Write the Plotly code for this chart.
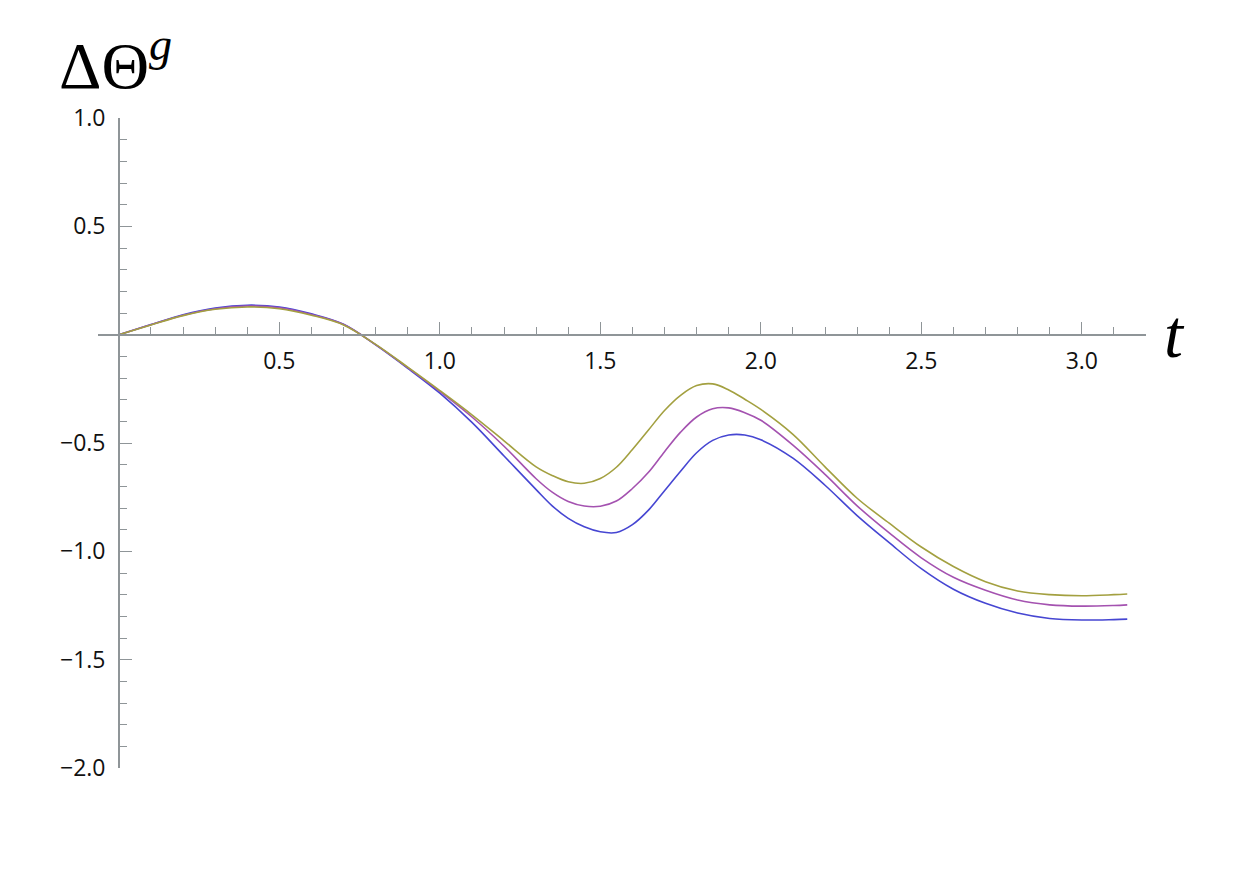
import numpy as np
import plotly.graph_objects as go

# time grid (last point is pi)
t = [0.0, 0.1, 0.2, 0.3, 0.4, 0.5, 0.6, 0.7, 0.8, 0.9, 1.0, 1.1, 1.2,
     1.3, 1.35, 1.4, 1.45, 1.5, 1.55, 1.6, 1.65, 1.7, 1.75, 1.8, 1.85, 1.9, 1.95, 2.0,
     2.1, 2.2, 2.3, 2.4, 2.5, 2.6, 2.7, 2.8, 2.9, 3.0, 3.1, 3.14159]

blue = [0.0, 0.047, 0.092, 0.123, 0.136, 0.128, 0.096, 0.048, -0.047, -0.155, -0.27, -0.405, -0.56,
        -0.715, -0.79, -0.848, -0.887, -0.91, -0.913, -0.877, -0.81, -0.72, -0.63, -0.545, -0.488, -0.463, -0.463, -0.485,
        -0.57, -0.695, -0.835, -0.96, -1.08, -1.175, -1.24, -1.285, -1.31, -1.317, -1.315, -1.313]

purple = [0.0, 0.046, 0.09, 0.12, 0.132, 0.124, 0.093, 0.047, -0.046, -0.152, -0.262, -0.38, -0.515,
          -0.665, -0.727, -0.77, -0.791, -0.792, -0.768, -0.71, -0.635, -0.54, -0.45, -0.38, -0.342, -0.338, -0.36, -0.395,
          -0.51, -0.645, -0.79, -0.915, -1.03, -1.12, -1.18, -1.225, -1.247, -1.253, -1.25, -1.247]

gold = [0.0, 0.045, 0.088, 0.117, 0.128, 0.12, 0.09, 0.045, -0.045, -0.15, -0.258, -0.37, -0.49,
        -0.61, -0.65, -0.679, -0.686, -0.664, -0.612, -0.53, -0.44, -0.35, -0.28, -0.235, -0.227, -0.255, -0.298, -0.345,
        -0.46, -0.61, -0.755, -0.87, -0.98, -1.07, -1.14, -1.183, -1.2, -1.205, -1.2, -1.197]

x_major = [0.5, 1.0, 1.5, 2.0, 2.5, 3.0]
y_major = [1.0, 0.5, -0.5, -1.0, -1.5, -2.0]

axis_grey = "#8f9598"
x_min = -0.065
serif = "Liberation Serif, DejaVu Serif, serif"

fig = go.Figure()
for vals, col in [(blue, "#4646d2"), (purple, "#a452b0"), (gold, "#a3a040")]:
    fig.add_trace(go.Scatter(x=t, y=vals, mode="lines",
                             line=dict(color=col, width=1.6, shape="spline", smoothing=1.0)))

x_minor = [v for v in np.round(np.arange(0.1, 3.21, 0.1), 1) if v not in x_major]
y_minor = [v for v in np.round(np.arange(-2.0, 1.01, 0.1), 1) if v not in y_major and v != 0]

fig.update_layout(
    width=1253, height=869,
    margin=dict(l=90, r=115, t=110, b=109),
    paper_bgcolor="white", plot_bgcolor="white",
    showlegend=False, hovermode=False,
    font=dict(family="Open Sans", size=23, color="#111"),
    xaxis=dict(range=[x_min, 3.2], showgrid=False, zeroline=False,
               showline=True, linecolor=axis_grey, linewidth=1.5,
               anchor="free", position=2 / 3,
               ticks="inside", ticklen=12, tickwidth=1.3, tickcolor=axis_grey,
               tickvals=x_major, ticktext=[f"{v:.1f}" for v in x_major],
               ticklabelstandoff=6,
               minor=dict(ticks="inside", ticklen=7, tickwidth=1, tickcolor=axis_grey,
                          tickvals=x_minor, showgrid=False)),
    yaxis=dict(range=[-2, 1], showgrid=False, zeroline=False,
               showline=True, linecolor=axis_grey, linewidth=1.5,
               anchor="free", position=-x_min / (3.2 - x_min),
               ticks="inside", ticklen=12, tickwidth=1.3, tickcolor=axis_grey,
               tickvals=y_major, ticktext=[f"{v:.1f}".replace("-", "\u2212") for v in y_major],
               ticklabelstandoff=8,
               minor=dict(ticks="inside", ticklen=7, tickwidth=1, tickcolor=axis_grey,
                          tickvals=y_minor, showgrid=False)),
)

fig.add_annotation(xref="paper", yref="paper", x=-0.039, y=1.088,
                   xanchor="left", yanchor="middle", showarrow=False,
                   text="\u0394\u0398<sup><i>g</i></sup>",
                   font=dict(family=serif, size=66, color="#000"))
fig.add_annotation(xref="paper", yref="paper", x=1.027, y=0.668,
                   xanchor="center", yanchor="middle", showarrow=False,
                   text="<i>t</i>",
                   font=dict(family=serif, size=68, color="#000"))

fig.write_html("out.html")
